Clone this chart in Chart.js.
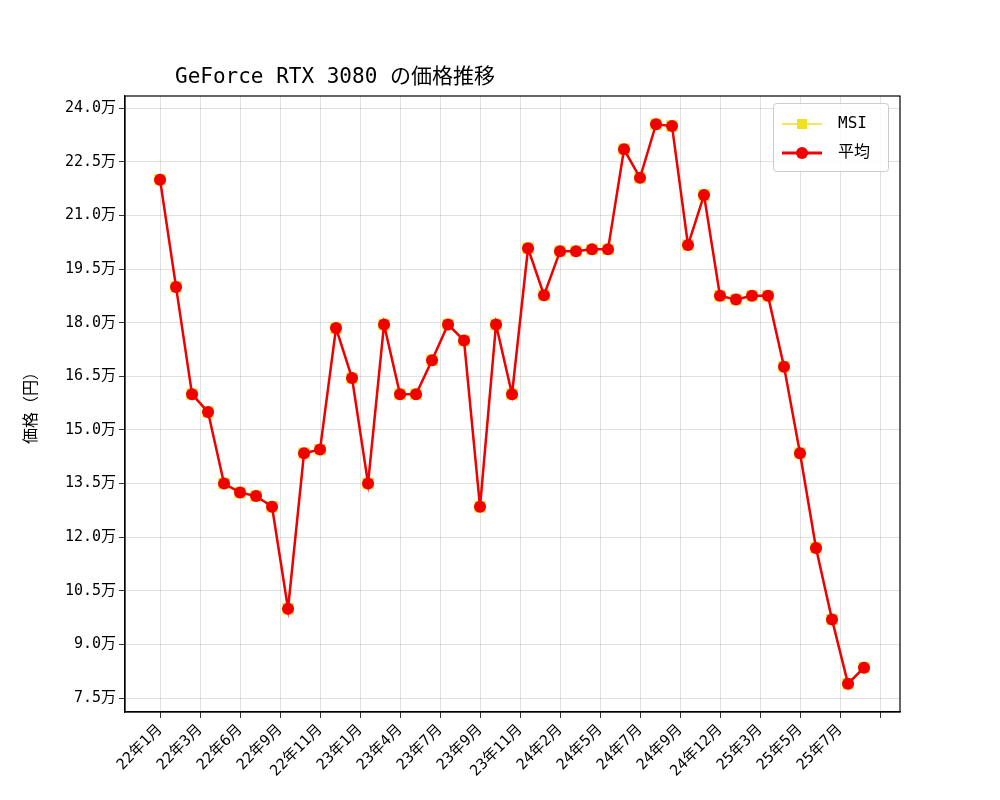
<!DOCTYPE html>
<html><head><meta charset="utf-8">
<script src="https://cdn.jsdelivr.net/npm/chart.js@4/dist/chart.umd.min.js"></script>
<style>html,body{margin:0;background:#fff}#c{display:block}</style>
</head><body>
<canvas id="c" width="1000" height="800"></canvas>
<script>
"use strict";
const FONT = "'DejaVu Sans Mono','Noto Sans CJK JP',monospace";

// ── Data ───────────────────────────────────────────────
const tickLabels = ["22年1月","22年3月","22年6月","22年9月","22年11月","23年1月","23年4月","23年7月","23年9月",
  "23年11月","24年2月","24年5月","24年7月","24年9月","24年12月","25年3月","25年5月","25年7月",""];
const msiPrices = [22.0,19.0,16.0,15.5,13.5,13.25,13.15,12.85,10.0,14.35,14.45,17.85,16.45,13.5,17.95,16.0,16.0,16.95,
  17.95,17.5,12.85,17.95,16.0,20.08,18.77,20.0,20.0,20.05,20.05,22.85,22.05,23.55,23.5,20.17,21.57,18.75,18.65,18.75,
  18.75,16.77,14.35,11.7,9.7,7.9,8.35];
const avgPrices = msiPrices.slice();
const yTicks = [7.5,9.0,10.5,12.0,13.5,15.0,16.5,18.0,19.5,21.0,22.5,24.0];

const pts = (arr) => arr.map((v, i) => ({ x: i, y: v }));

// title + legend drawn by hand to match placement
const decor = {
  id: "decor",
  afterDraw(chart) {
    const ctx = chart.ctx;
    ctx.save();
    ctx.fillStyle = "#000";
    ctx.font = "21px " + FONT;
    ctx.textBaseline = "alphabetic";
    ctx.fillText("GeForce RTX 3080 の価格推移", 175, 83);
    // legend
    ctx.fillStyle = "rgba(255,255,255,0.85)";
    ctx.strokeStyle = "#ccc";
    ctx.lineWidth = 1;
    ctx.beginPath(); ctx.roundRect(773.5, 103.5, 115, 68, 3); ctx.fill(); ctx.stroke();
    ctx.strokeStyle = "#f0e020"; ctx.lineWidth = 1.5;
    ctx.beginPath(); ctx.moveTo(782, 124); ctx.lineTo(822, 124); ctx.stroke();
    ctx.fillStyle = "#f0e020"; ctx.fillRect(797, 119, 10, 10);
    ctx.strokeStyle = "#f00000"; ctx.lineWidth = 3;
    ctx.beginPath(); ctx.moveTo(782, 153); ctx.lineTo(822, 153); ctx.stroke();
    ctx.fillStyle = "#f00000"; ctx.beginPath(); ctx.arc(802, 153, 6, 0, Math.PI * 2); ctx.fill();
    ctx.fillStyle = "#000"; ctx.font = "16px " + FONT; ctx.textBaseline = "middle";
    ctx.fillText("MSI", 838, 124);
    ctx.fillText("平均", 838, 153);
    ctx.restore();
  },
};

new Chart(document.getElementById("c"), {
  type: "line",
  data: {
    datasets: [
      { label: "平均", data: pts(avgPrices), borderColor: "#f00000", backgroundColor: "#f00000",
        borderWidth: 2.5, pointRadius: 6, pointBorderWidth: 0, pointStyle: "circle", order: 0 },
      { label: "MSI", data: pts(msiPrices), borderColor: "#f0e020", backgroundColor: "#f0e020",
        borderWidth: 1.5, pointRadius: 7, pointStyle: "rect", order: 1 },
    ],
  },
  options: {
    responsive: false, animation: false,
    layout: { padding: { top: 96, right: 100, left: 18, bottom: 0 } },
    plugins: { legend: { display: false }, tooltip: { enabled: false } },
    scales: {
      x: {
        type: "linear", min: -2.19, max: 46.25,
        afterBuildTicks: (s) => { s.ticks = tickLabels.map((_, k) => ({ value: k * 2.5 })); },
        ticks: { autoSkip: false, maxRotation: 45, minRotation: 45, color: "#000",
          font: { family: FONT, size: 15 },
          callback: (v) => tickLabels[Math.round(v / 2.5)] },
        grid: { color: "rgba(0,0,0,0.15)", lineWidth: 0.8, tickLength: 6, tickColor: "#000" },
        border: { color: "#000", width: 1.2 },
        afterFit: (s) => { s.height = 88; },
      },
      y: {
        min: 7.11, max: 24.34,
        afterBuildTicks: (s) => { s.ticks = yTicks.map((v) => ({ value: v })); },
        ticks: { color: "#000", font: { family: FONT, size: 15 }, callback: (v) => v.toFixed(1) + "万" },
        grid: { color: "rgba(0,0,0,0.15)", lineWidth: 0.8, tickLength: 6, tickColor: "#000" },
        border: { color: "#000", width: 1.2 },
        title: { display: true, text: "価格（円）", color: "#000", font: { family: FONT, size: 16 } },
        afterFit: (s) => { s.width = 107; },
      },
    },
  },
  plugins: [decor, {
    id: "frame",
    afterDraw(chart) {
      const { ctx, chartArea: a } = chart;
      ctx.save(); ctx.strokeStyle = "#000"; ctx.lineWidth = 1.2; ctx.setLineDash([]);
      ctx.strokeRect(a.left, a.top, a.right - a.left, a.bottom - a.top); ctx.restore();
    },
  }],
});
</script>
</body></html>
